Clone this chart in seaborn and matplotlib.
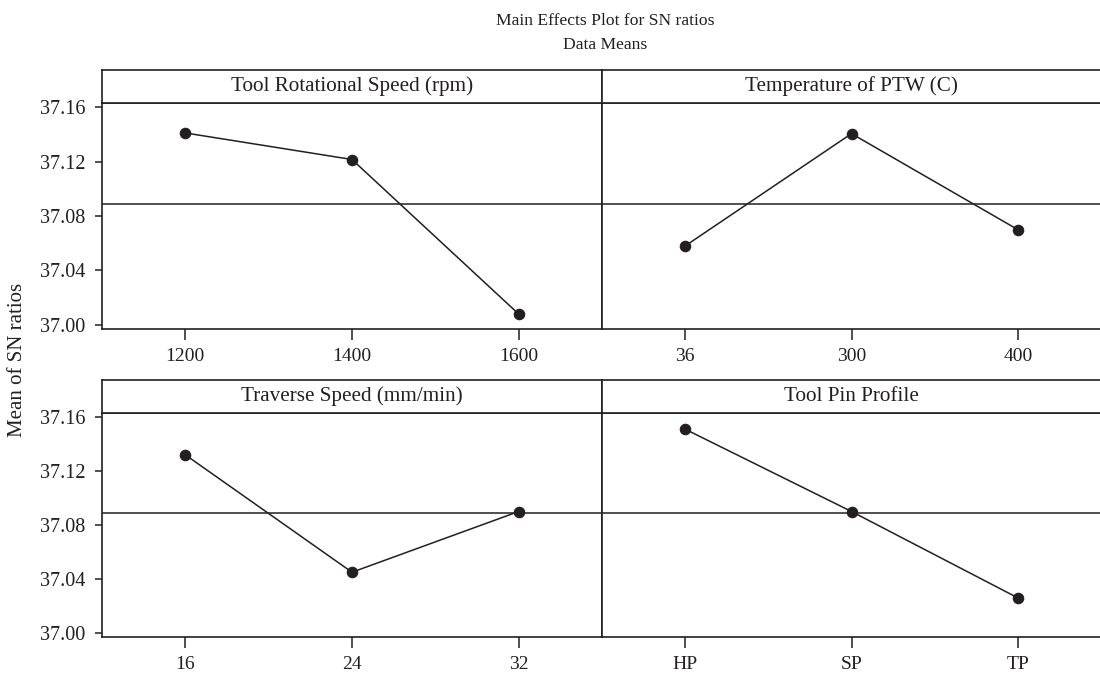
import matplotlib
matplotlib.use("Agg")
import matplotlib.pyplot as plt
import seaborn as sns
import pandas as pd

# ---- data ----
factors = ["Tool Rotational Speed (rpm)", "Temperature of PTW (C)",
           "Traverse Speed (mm/min)", "Tool Pin Profile"]
levels = [["1200", "1400", "1600"],
          ["36", "300", "400"],
          ["16", "24", "32"],
          ["HP", "SP", "TP"]]
sn_means = [[37.141, 37.1215, 37.008],
            [37.058, 37.1405, 37.070],
            [37.132, 37.045, 37.090],
            [37.151, 37.090, 37.026]]
grand_mean = 37.089
y_ticks = [37.00, 37.04, 37.08, 37.12, 37.16]

sns.set_style("white")
plt.rcParams['font.family'] = ['Liberation Serif', 'DejaVu Serif']
ink = "#231f20"

fig = plt.figure(figsize=(11, 6.8), dpi=100)

W, H = 1100, 680
def frac(x0, y0, x1, y1):
    return [x0 / W, 1 - y1 / H, (x1 - x0) / W, (y1 - y0) / H]

# panel boxes in pixels: (x0, x1) and (header_top, header_bottom, data_bottom)
cols = [(102, 602), (602, 1101)]
rows = [(70, 103, 329), (380, 413, 637)]

for i, name in enumerate(factors):
    r, c = divmod(i, 2)
    x0, x1 = cols[c]
    ht, hb, db = rows[r]

    ax = fig.add_axes(frac(x0, hb, x1, db))
    hd = fig.add_axes(frac(x0, ht, x1, hb))

    df = pd.DataFrame({"level": levels[i], "sn": sn_means[i]})
    sns.pointplot(data=df, x="level", y="sn", color=ink, ax=ax,
                  markers="o", linestyles="-", linewidth=1.1,
                  markersize=7.5, errorbar=None)
    ax.axhline(grand_mean, color=ink, lw=1.1, zorder=0)

    ax.set_xlim(-0.5, 2.5)
    ax.set_ylim(36.997, 37.163)
    ax.set_xlabel("")
    ax.set_ylabel("")
    ax.set_yticks(y_ticks)
    ax.tick_params(axis="x", direction="out", length=8, width=1.1,
                   color=ink, labelsize=14, labelcolor=ink, pad=6,
                   bottom=True)
    if c == 0:
        ax.set_yticklabels([f"{v:.2f}" for v in y_ticks])
        ax.tick_params(axis="y", direction="out", length=5, width=1.1,
                       color=ink, labelsize=14.5, labelcolor=ink, pad=7,
                       left=True)
    else:
        ax.tick_params(axis="y", left=False, labelleft=False)

    for a in (ax, hd):
        for s in a.spines.values():
            s.set_color(ink)
            s.set_linewidth(1.2)
        if c == 1:
            a.spines["right"].set_visible(False)
    hd.set_xticks([])
    hd.set_yticks([])
    hd.text(0.5, 0.5, name, ha="center", va="center", fontsize=15.2,
            color=ink, transform=hd.transAxes)

fig.text(605 / W, 1 - 21 / H, "Main Effects Plot for SN ratios",
         ha="center", va="center", fontsize=12.6, color=ink)
fig.text(605 / W, 1 - 45 / H, "Data Means",
         ha="center", va="center", fontsize=12.6, color=ink)
fig.text(18 / W, 1 - 360 / H, "Mean of SN ratios", rotation=90,
         ha="center", va="center", fontsize=15, color=ink)

fig.savefig("out.png", dpi=100)
